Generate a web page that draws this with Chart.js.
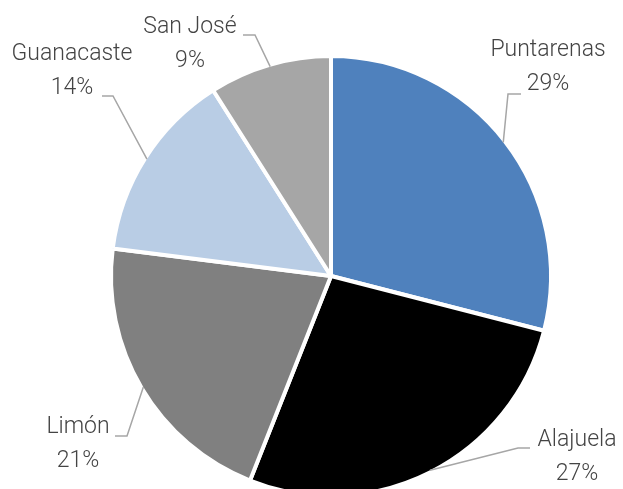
<!DOCTYPE html>
<html lang="es">
<head>
    <meta charset="UTF-8">
    <title>Distribución por provincia</title>
    <script src="https://cdn.jsdelivr.net/npm/chart.js"></script>
    <style>
        html, body { margin: 0; padding: 0; background: #fff; }
        #wrap { width: 623px; height: 489px; }
    </style>
</head>
<body>
    <div id="wrap"><canvas id="pie" width="623" height="489"></canvas></div>

    <script>
        // data
        const provincias = ['Puntarenas', 'Alajuela', 'Limón', 'Guanacaste', 'San José'];
        const porcentajes = [29, 27, 21, 14, 9];
        const colores = ['#4F81BD', '#000000', '#808080', '#B9CDE5', '#A6A6A6'];

        // where each label sits: text centre (x, y of first line) and the short horizontal bit of the leader
        const labelSpots = [
            { x: 548, y: 50, hx1: 521, hx2: 508, hy: 94 },
            { x: 577, y: 440, hx1: 530, hx2: 518, hy: 448 },
            { x: 78, y: 427, hx1: 115, hx2: 127, hy: 436 },
            { x: 72, y: 54, hx1: 102, hx2: 113, hy: 96 },
            { x: 190, y: 27, hx1: 243, hx2: 255, hy: 35 }
        ];

        const labelPlugin = {
            id: 'pieLabels',
            afterDraw(chart) {
                const ctx = chart.ctx;
                const meta = chart.getDatasetMeta(0);
                const total = porcentajes.reduce((a, b) => a + b, 0);
                ctx.save();
                meta.data.forEach((arc, i) => {
                    const p = arc.getProps(['x', 'y', 'startAngle', 'endAngle', 'outerRadius'], true);
                    const mid = (p.startAngle + p.endAngle) / 2;
                    const r = p.outerRadius - 2;
                    const ax = p.x + Math.cos(mid) * r;
                    const ay = p.y + Math.sin(mid) * r;
                    const s = labelSpots[i];

                    ctx.strokeStyle = '#A6A6A6';
                    ctx.lineWidth = 1.5;
                    ctx.beginPath();
                    ctx.moveTo(s.hx1, s.hy);
                    ctx.lineTo(s.hx2, s.hy);
                    ctx.lineTo(ax, ay);
                    ctx.stroke();

                    ctx.fillStyle = '#444444';
                    ctx.font = '300 23px Roboto, "Liberation Sans", sans-serif';
                    ctx.textAlign = 'center';
                    ctx.textBaseline = 'middle';
                    ctx.fillText(provincias[i], s.x, s.y);
                    ctx.fillText(Math.round(porcentajes[i] / total * 100) + '%', s.x, s.y + 34);
                });
                ctx.restore();
            }
        };

        new Chart(document.getElementById('pie'), {
            type: 'pie',
            data: {
                labels: provincias,
                datasets: [{
                    data: porcentajes,
                    backgroundColor: colores,
                    borderColor: '#FFFFFF',
                    borderWidth: 4
                }]
            },
            options: {
                responsive: false,
                animation: false,
                radius: 220,
                layout: { padding: { left: 39, right: 0, top: 63, bottom: 0 } },
                plugins: {
                    legend: { display: false },
                    tooltip: { enabled: false }
                }
            },
            plugins: [labelPlugin]
        });
    </script>
</body>
</html>
